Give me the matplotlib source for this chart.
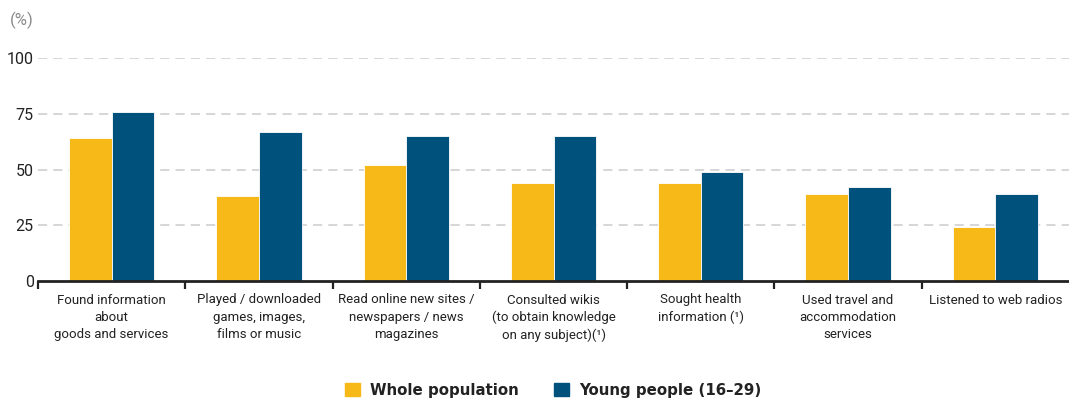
import numpy as np
import matplotlib
matplotlib.use("Agg")
import matplotlib.pyplot as plt

categories = [
    "Found information\nabout\ngoods and services",
    "Played / downloaded\ngames, images,\nfilms or music",
    "Read online new sites /\nnewspapers / news\nmagazines",
    "Consulted wikis\n(to obtain knowledge\non any subject)(\u00b9)",
    "Sought health\ninformation (\u00b9)",
    "Used travel and\naccommodation\nservices",
    "Listened to web radios",
]
whole_population = [64, 38, 52, 44, 44, 39, 24]
young_people = [76, 67, 65, 65, 49, 42, 39]
series_names = ["Whole population", "Young people (16\u201329)"]
yticks = [0, 25, 50, 75, 100]

yellow = "#F7B918"
blue = "#00527D"
fam = ["Roboto", "DejaVu Sans"]

fig = plt.figure(figsize=(10.69, 4.01), dpi=100)
ax = fig.add_axes([38 / 1069, 1 - 281 / 401, 1 - 38 / 1069, (281 - 58) / 401])

x = np.arange(len(categories))
w = 0.29
ax.bar(x - w / 2, whole_population, w, color=yellow, edgecolor="white", linewidth=0.6, zorder=3)
ax.bar(x + w / 2, young_people, w, color=blue, edgecolor="white", linewidth=0.6, zorder=3)

ax.set_xlim(-0.5, len(categories) - 0.5)
ax.set_ylim(0, 100)
ax.set_yticks(yticks)
ax.set_yticklabels([str(t) for t in yticks], family=fam, fontsize=11.5, color="#222222")
ax.tick_params(axis="y", length=0, pad=3)
for t in yticks[1:]:
    ax.axhline(t, color="#cccccc", lw=1.1, ls=(0, (6, 4)), zorder=1)

ax.set_xticks(x)
ax.set_xticklabels(categories, family=fam, fontsize=9.5, color="#222222", va="top", linespacing=1.42)
ax.tick_params(axis="x", length=0, pad=9)
ax.set_xticks(np.arange(len(categories)) - 0.5, minor=True)
ax.tick_params(axis="x", which="minor", length=6, width=1.6, color="#222222", direction="out")

for s in ["top", "right", "left"]:
    ax.spines[s].set_visible(False)
ax.spines["bottom"].set_color("#222222")
ax.spines["bottom"].set_linewidth(2)
ax.spines["bottom"].set_zorder(4)

fig.text(10 / 1069, 1 - 20 / 401, "(%)", family=fam, fontsize=12, color="#8a8a8a", va="center")

handles = [plt.Rectangle((0, 0), 1, 1, color=yellow), plt.Rectangle((0, 0), 1, 1, color=blue)]
leg = fig.legend(handles, series_names, loc="center", bbox_to_anchor=(553 / 1069, 1 - 390 / 401), ncol=2,
                 frameon=False, handlelength=1.0, handleheight=1.0, columnspacing=2.3, handletextpad=0.7,
                 prop={"family": "DejaVu Sans", "weight": "bold", "size": 10.8})
for t in leg.get_texts():
    t.set_color("#222222")

fig.savefig("out.png", dpi=100)
